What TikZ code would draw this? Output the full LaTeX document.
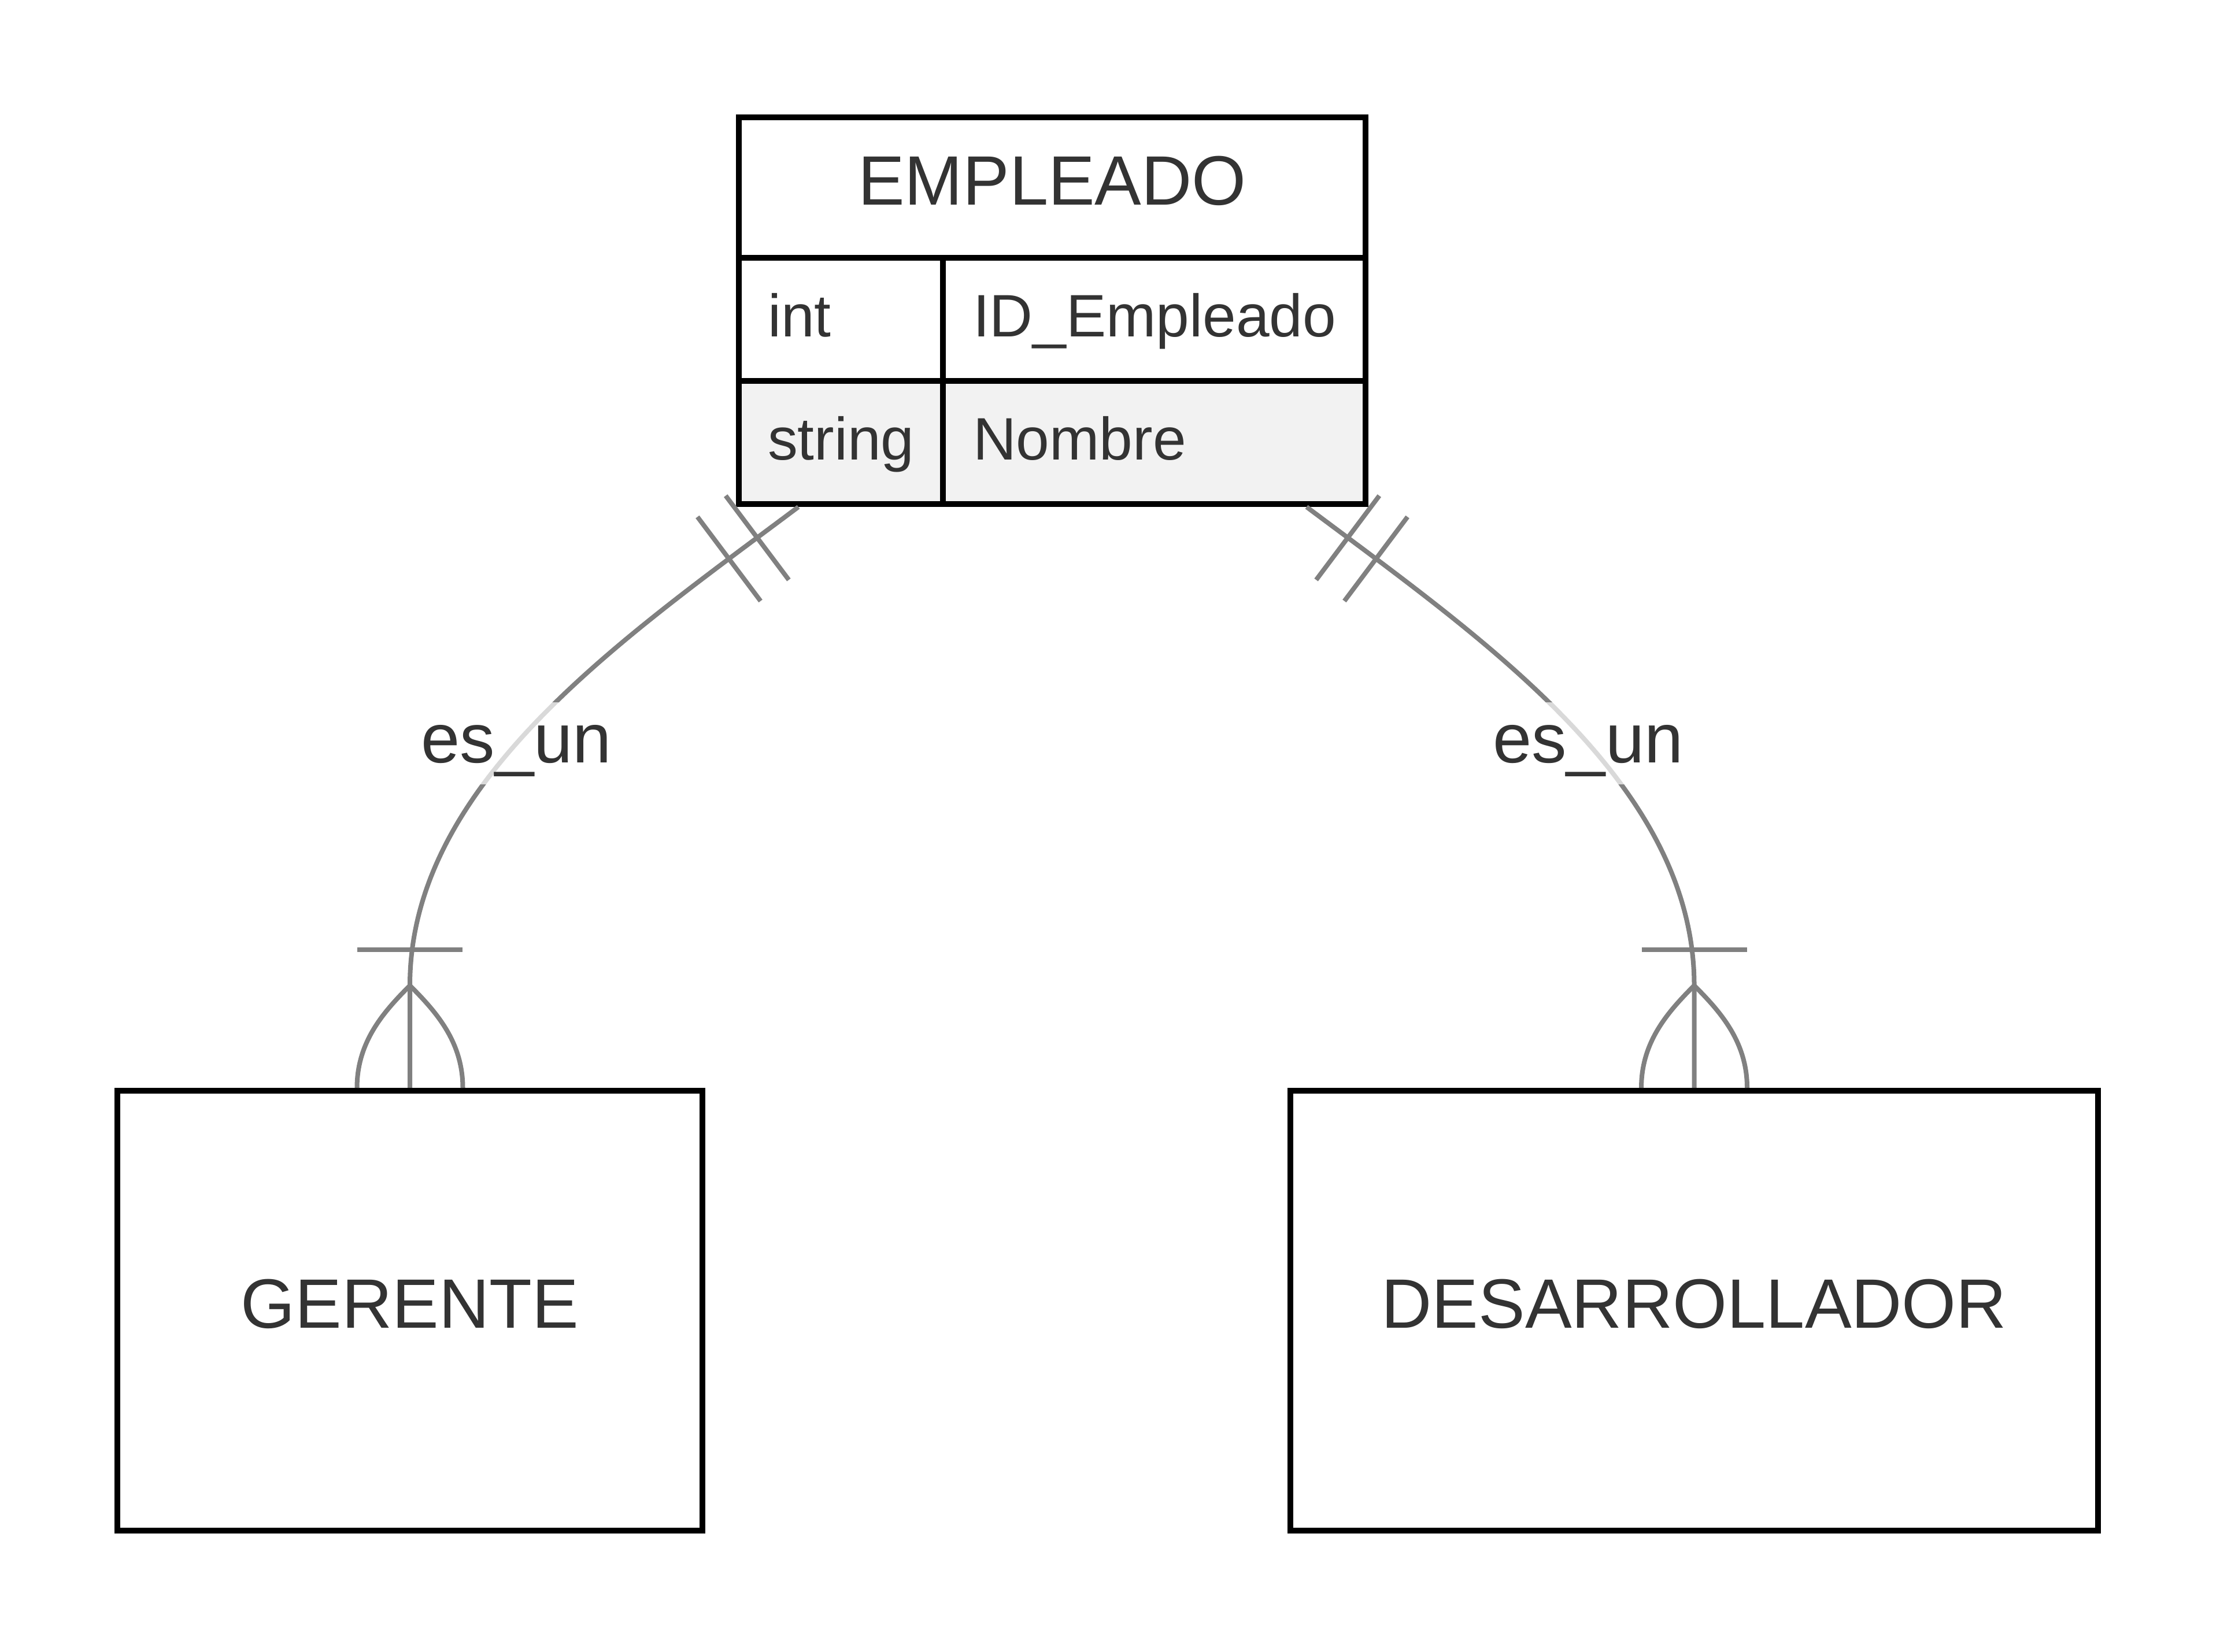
\documentclass[tikz,border=0pt]{standalone}
\usepackage{fontspec}
\setmainfont{Liberation Sans}
\usetikzlibrary{positioning,calc}
\definecolor{er_text}{RGB}{51, 51, 51}
\definecolor{er_line}{RGB}{128, 128, 128}
\definecolor{er_row}{RGB}{242, 242, 242}
\newcommand{\ername}{\fontsize{34.4pt}{41pt}\selectfont}
\newcommand{\erattr}{\fontsize{29.5pt}{35pt}\selectfont}

\begin{document}
\begin{tikzpicture}[
					cell/.style={draw=black, line width=0.1cm, outer sep=0pt, inner sep=0pt, text=er_text, text height=0.95cm, text depth=0.35cm},
					head/.style={cell, font=\ername, minimum width=10.84cm, minimum height=2.43cm},
					attr/.style={cell, font=\erattr, minimum height=2.13cm, align=left},
					typecol/.style={attr, text width=3.53cm, execute at begin node={\hspace*{0.50cm}}},
					namecol/.style={attr, text width=7.31cm, execute at begin node={\hspace*{0.52cm}}},
					entity/.style={cell, font=\ername, fill=white, minimum height=7.61cm},
					rel/.style={draw=er_line, line width=0.08cm},
					lbl/.style={font=\ername, text=er_text, fill=white, fill opacity=0.7, text opacity=1, inner sep=0pt, text height=1.04cm, text depth=0.38cm},
				]
				\useasboundingbox (0,0) rectangle (38.4,28.57);

				% EMPLEADO table
				\node[head, anchor=north west] (emp) at (12.78,26.54) {EMPLEADO};
				\node[typecol, anchor=north west] (emp-t1) at (emp.south west) {int};
				\node[namecol, anchor=north west] (emp-n1) at (emp-t1.north east) {ID\_Empleado};
				\node[typecol, fill=er_row, anchor=north west] (emp-t2) at (emp-t1.south west) {string};
				\node[namecol, fill=er_row, anchor=north west] (emp-n2) at (emp-t2.north east) {Nombre};

				% subtypes
				\node[entity, minimum width=10.12cm] (ger) at (7.09,5.895) {GERENTE};
				\node[entity, minimum width=13.97cm] (des) at (29.305,5.895) {DESARROLLADOR};

				\coordinate (l-top) at ($(emp-t2.south west)+(1.03,-0.05)$);
				\coordinate (r-top) at ($(emp-n2.south east)+(-1.02,-0.05)$);
				\coordinate (g-top) at ($(ger.north)+(0,0.05)$);
				\coordinate (d-top) at ($(des.north)+(0,0.05)$);
				\coordinate (g-apex) at ($(g-top)+(0,1.77)$);
				\coordinate (d-apex) at ($(d-top)+(0,1.77)$);

				\draw[rel] (l-top) .. controls +(-3.04,-2.28) and +(0,3.5) .. (g-apex) node[lbl, pos=0.55] {es\_un} -- (g-top);
				\draw[rel] (r-top) .. controls +(3.04,-2.28) and +(0,3.5) .. (d-apex) node[lbl, pos=0.55] {es\_un} -- (d-top);

				% exactly one
				\foreach \d in {0.89,1.50} {
					\draw[rel] ($(l-top)+(-0.8*\d,-0.6*\d)+(0.546,-0.728)$) -- ($(l-top)+(-0.8*\d,-0.6*\d)+(-0.546,0.728)$);
					\draw[rel] ($(r-top)+(0.8*\d,-0.6*\d)+(0.546,0.728)$) -- ($(r-top)+(0.8*\d,-0.6*\d)+(-0.546,-0.728)$);
				}

				% one or more
				\foreach \e in {g,d} {
					\draw[rel] ($(\e-apex)+(-0.91,0.62)$) -- ($(\e-apex)+(0.91,0.62)$);
					\draw[rel] ($(\e-top)+(-0.915,0)$) .. controls +(0,0.8) and +(-0.45,-0.45) .. (\e-apex) .. controls +(0.45,-0.45) and +(0,0.8) .. ($(\e-top)+(0.915,0)$);
				}

			\end{tikzpicture}
\end{document}
